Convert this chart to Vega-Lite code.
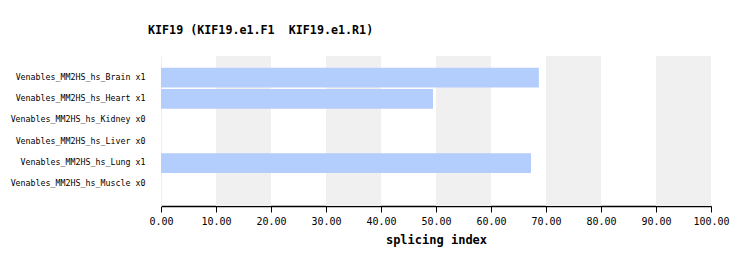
{
  "$schema": "https://vega.github.io/schema/vega-lite/v6.json",
  "width": 550,
  "height": 150,
  "autosize": {"type": "none"},
  "padding": {"left": 161, "top": 56, "right": 39, "bottom": 60},
  "background": "white",
  "config": {"view": {"stroke": null}, "font": "DejaVu Sans Mono"},
  "title": {
    "text": "KIF19 (KIF19.e1.F1 \u00a0KIF19.e1.R1)",
    "anchor": "start",
    "frame": "group",
    "dx": -13,
    "offset": 19,
    "font": "DejaVu Sans Mono",
    "fontSize": 11.7,
    "fontWeight": "bold",
    "color": "black"
  },
  "datasets": {
    "bands": [
      {"start": 10, "end": 20},
      {"start": 30, "end": 40},
      {"start": 50, "end": 60},
      {"start": 70, "end": 80},
      {"start": 90, "end": 100}
    ],
    "bars": [
      {"sample": "Venables_MM2HS_hs_Brain x1", "value": 68.7},
      {"sample": "Venables_MM2HS_hs_Heart x1", "value": 49.45},
      {"sample": "Venables_MM2HS_hs_Kidney x0", "value": 0},
      {"sample": "Venables_MM2HS_hs_Liver x0", "value": 0},
      {"sample": "Venables_MM2HS_hs_Lung x1", "value": 67.27},
      {"sample": "Venables_MM2HS_hs_Muscle x0", "value": 0}
    ]
  },
  "layer": [
    {
      "data": {"name": "bands"},
      "mark": {"type": "rect", "color": "#f0f0f0"},
      "encoding": {
        "x": {"field": "start", "type": "quantitative", "scale": {"domain": [0, 100]}},
        "x2": {"field": "end"}
      }
    },
    {
      "data": {"name": "bars"},
      "mark": {"type": "bar", "color": "#b3cdfd"},
      "encoding": {
        "y": {
          "field": "sample",
          "type": "nominal",
          "sort": null,
          "scale": {"paddingInner": 0.08, "paddingOuter": 0.55},
          "axis": {
            "title": null,
            "ticks": false,
            "domainColor": "#eeeeee",
            "labelPadding": 16,
            "labelFontSize": 8.3,
            "labelColor": "black",
            "labelFont": "DejaVu Sans Mono"
          }
        },
        "x": {
          "field": "value",
          "type": "quantitative",
          "scale": {"domain": [0, 100], "nice": false},
          "axis": {
            "title": "splicing index",
            "titleFont": "DejaVu Sans Mono",
            "titleFontSize": 12,
            "titleFontWeight": "bold",
            "titleColor": "black",
            "titlePadding": 8,
            "values": [0, 10, 20, 30, 40, 50, 60, 70, 80, 90, 100],
            "format": ".2f",
            "grid": false,
            "labelFlush": false,
            "labelOverlap": false,
            "domainColor": "black",
            "domainWidth": 1.5,
            "tickColor": "black",
            "tickSize": 6,
            "tickWidth": 1,
            "labelFont": "DejaVu Sans Mono",
            "labelFontSize": 10,
            "labelColor": "black",
            "labelPadding": 4
          }
        }
      }
    }
  ]
}
